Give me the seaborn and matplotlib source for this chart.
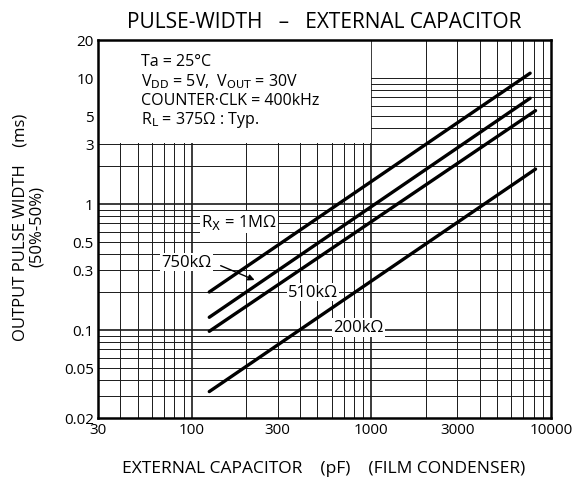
import numpy as np
import pandas as pd
import matplotlib
matplotlib.use("Agg")
import matplotlib.pyplot as plt
from matplotlib.patches import Rectangle
from matplotlib.ticker import FixedLocator, NullFormatter
import seaborn as sns

# garis: titik awal dan akhir tiap kurva (log-log)
rx_names = ["1M", "750k", "510k", "200k"]
cap_start = [125, 125, 125, 125]          # pF
cap_end = [7650, 7650, 8200, 8200]        # pF
pw_start = [0.20, 0.126, 0.0975, 0.0324]  # ms
pw_end = [10.9, 6.9, 5.5, 1.89]           # ms

x_ticks = [30, 100, 300, 1000, 3000, 10000]
y_ticks = [0.02, 0.05, 0.1, 0.3, 0.5, 1, 3, 5, 10, 20]

rows = []
for i, name in enumerate(rx_names):
    rows.append({"rx": name, "cap": cap_start[i], "pw": pw_start[i]})
    rows.append({"rx": name, "cap": cap_end[i], "pw": pw_end[i]})
df = pd.DataFrame(rows)

sns.set_style("white")
plt.rcParams["font.family"] = ["Open Sans", "DejaVu Sans"]
plt.rcParams["text.color"] = "black"
plt.rcParams["axes.labelcolor"] = "black"
plt.rcParams["xtick.color"] = "black"
plt.rcParams["ytick.color"] = "black"

fig = plt.figure(figsize=(5.75, 4.81), dpi=100)
ax = fig.add_axes([0.1704, 0.1289, 0.7879, 0.7859])
ax.set_xscale("log")
ax.set_yscale("log")

sns.lineplot(data=df, x="cap", y="pw", hue="rx", palette=["black"] * 4,
             legend=False, linewidth=2.4, ax=ax, zorder=4)

ax.set_xlim(30, 10000)
ax.set_ylim(0.02, 20)

# grid log 1..9 tiap dekade
xg = [m * 10 ** e for e in range(1, 4) for m in range(1, 10)] + [10000]
xg = [v for v in xg if 30 <= v <= 10000]
yg = [m * 10 ** e for e in range(-2, 2) for m in range(1, 10)]
yg = [v for v in yg if 0.02 <= v <= 20]
for v in xg:
    lw = 1.2 if v in (100, 1000) else 0.7
    ax.axvline(v, color="0.1", lw=lw, zorder=1)
for v in yg:
    lw = 1.2 if v in (0.1, 1) else 0.7
    ax.axhline(v, color="0.1", lw=lw, zorder=1)

# kotak keterangan (menutupi grid)
ax.add_patch(Rectangle((30, 3.05), 1000 - 30, 20 - 3.05, facecolor="white",
                       edgecolor="none", zorder=2))
info = ["Ta = 25°C",
        "V$_{\\mathrm{DD}}$ = 5V,  V$_{\\mathrm{OUT}}$ = 30V",
        "COUNTER·CLK = 400kHz",
        "R$_{\\mathrm{L}}$ = 375Ω : Typ."]
for i, s in enumerate(info):
    ax.text(0.096, 0.944 - i * 0.051, s, transform=ax.transAxes,
            fontsize=11.5, va="center", ha="left", zorder=3)

ax.xaxis.set_major_locator(FixedLocator(x_ticks))
ax.xaxis.set_minor_locator(FixedLocator([]))
ax.set_xticklabels([str(v) for v in x_ticks])
ax.yaxis.set_major_locator(FixedLocator(y_ticks))
ax.yaxis.set_minor_locator(FixedLocator([]))
ax.yaxis.set_minor_formatter(NullFormatter())
ax.set_yticklabels([f"{v:g}" for v in y_ticks])
ax.tick_params(length=0, labelsize=11, pad=3)

for sp in ax.spines.values():
    sp.set_color("black")
    sp.set_linewidth(1.8)
    sp.set_zorder(5)

# label kurva
lab = dict(fontsize=12, ha="center", va="center", zorder=5,
           bbox=dict(facecolor="white", edgecolor="none", pad=1.0))
ax.text(183, 0.72, "R$_{\\mathrm{X}}$ = 1MΩ", **lab)
ax.text(93, 0.346, "750kΩ", **lab)
ax.text(473, 0.20, "510kΩ", **lab)
ax.text(843, 0.105, "200kΩ", **lab)
ax.annotate("", xy=(231, 0.244), xytext=(140, 0.33), zorder=5,
            arrowprops=dict(arrowstyle="-|>", color="black", lw=1.0,
                            mutation_scale=9))

ax.set_xlabel("EXTERNAL CAPACITOR    (pF)    (FILM CONDENSER)", fontsize=12.5)
ax.xaxis.set_label_coords(0.498, -0.11)
ax.set_ylabel("OUTPUT PULSE WIDTH    (ms)\n(50%-50%)", fontsize=12,
              linespacing=1.0)
ax.yaxis.set_label_coords(-0.118, 0.508)
ax.set_title("PULSE-WIDTH   –   EXTERNAL CAPACITOR", fontsize=15, pad=9)

fig.savefig("out.png", dpi=100)
plt.close(fig)
